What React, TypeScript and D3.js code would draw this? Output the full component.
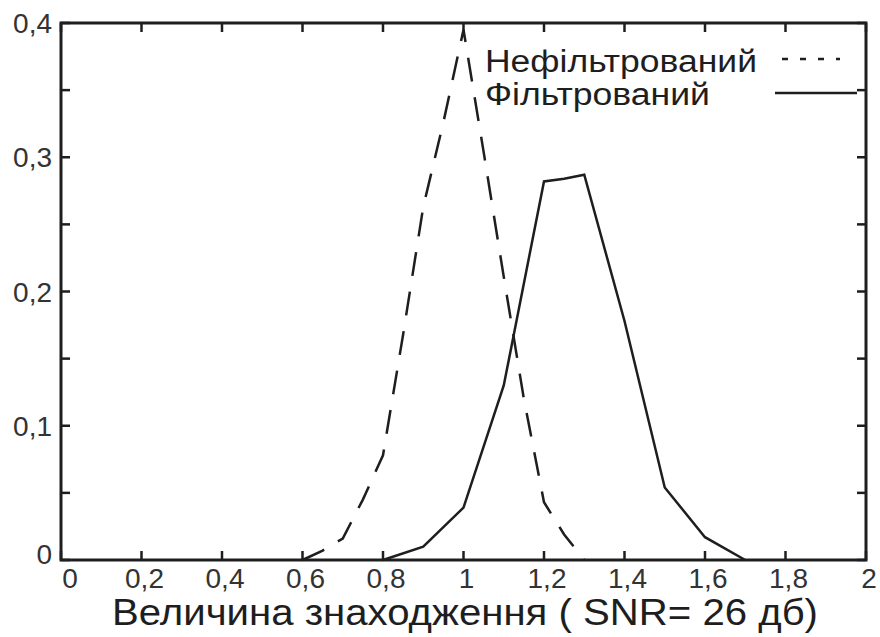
import { useEffect, useRef } from 'react';
import * as d3 from 'd3';

// Нефільтрований (dashed)
const unfilteredX = [0.6, 0.65, 0.7, 0.75, 0.8, 0.85, 0.9, 0.95, 1.0, 1.05, 1.1, 1.15, 1.2, 1.25, 1.3];
const unfilteredY = [0, 0.007, 0.016, 0.045, 0.078, 0.168, 0.263, 0.326, 0.395, 0.304, 0.211, 0.12, 0.043, 0.019, 0];

// Фільтрований (solid)
const filteredX = [0.8, 0.9, 1.0, 1.1, 1.2, 1.25, 1.3, 1.4, 1.5, 1.6, 1.7];
const filteredY = [0, 0.01, 0.039, 0.13, 0.282, 0.284, 0.287, 0.178, 0.054, 0.017, 0];

const xTicks = [0, 0.2, 0.4, 0.6, 0.8, 1, 1.2, 1.4, 1.6, 1.8, 2];
const xTickLabels = ['0', '0,2', '0,4', '0,6', '0,8', '1', '1,2', '1,4', '1,6', '1,8', '2'];
const yTicks = [0, 0.05, 0.1, 0.15, 0.2, 0.25, 0.3, 0.35, 0.4];
const yLabelTicks = [0, 0.1, 0.2, 0.3, 0.4];
const yTickLabels = ['0', '0,1', '0,2', '0,3', '0,4'];

const legendNames = ['Нефільтрований', 'Фільтрований'];
const xTitle = 'Величина знаходження ( SNR= 26 дб)';

export default function App() {
  const svgRef = useRef<SVGSVGElement>(null);

  useEffect(() => {
    document.body.style.margin = '0';
    if (!svgRef.current) return;

    const width = 880;
    const height = 637;
    const left = 61, right = 866, top = 23, bottom = 560;
    const ink = '#1e1e1e';
    const font = "'Liberation Sans', Arial, sans-serif";

    d3.select(svgRef.current).selectAll('*').remove();
    const svg = d3.select(svgRef.current)
      .attr('width', width)
      .attr('height', height)
      .attr('viewBox', `0 0 ${width} ${height}`);

    svg.append('rect').attr('width', width).attr('height', height).style('fill', '#fff');

    const x = d3.scaleLinear().domain([0, 2]).range([left, right]);
    const y = d3.scaleLinear().domain([0, 0.4]).range([bottom, top]);

    // ticks (inside, all four sides)
    const tickLen = 9;
    const ticks = svg.append('g').style('stroke', ink).style('stroke-width', 2.5);
    xTicks.forEach(t => {
      ticks.append('line').attr('x1', x(t)).attr('x2', x(t)).attr('y1', bottom).attr('y2', bottom - tickLen);
      ticks.append('line').attr('x1', x(t)).attr('x2', x(t)).attr('y1', top).attr('y2', top + tickLen);
    });
    yTicks.forEach(t => {
      ticks.append('line').attr('x1', left).attr('x2', left + tickLen).attr('y1', y(t)).attr('y2', y(t));
      ticks.append('line').attr('x1', right).attr('x2', right - tickLen).attr('y1', y(t)).attr('y2', y(t));
    });

    // frame
    svg.append('rect')
      .attr('x', left).attr('y', top)
      .attr('width', right - left).attr('height', bottom - top)
      .style('fill', 'none').style('stroke', ink).style('stroke-width', 3);

    // tick labels
    svg.append('g').selectAll('text')
      .data(xTicks)
      .enter()
      .append('text')
      .attr('x', (d, i) => x(d) + (i === 0 ? 9 : 3))
      .attr('y', 588)
      .attr('text-anchor', 'middle')
      .style('font-family', font)
      .style('font-size', '28px')
      .style('fill', '#333')
      .text((_, i) => xTickLabels[i]);

    svg.append('g').selectAll('text')
      .data(yLabelTicks)
      .enter()
      .append('text')
      .attr('x', 52)
      .attr('y', d => y(d) + (d === 0 ? 4 : 10))
      .attr('text-anchor', 'end')
      .style('font-family', font)
      .style('font-size', '28px')
      .style('fill', '#333')
      .text((_, i) => yTickLabels[i]);

    // curves
    const line = d3.line<[number, number]>()
      .x(d => x(d[0]))
      .y(d => y(d[1]));

    const unfiltered = unfilteredX.map((v, i) => [v, unfilteredY[i]] as [number, number]);
    const filtered = filteredX.map((v, i) => [v, filteredY[i]] as [number, number]);

    svg.append('path')
      .attr('d', line(unfiltered) as string)
      .style('fill', 'none')
      .style('stroke', ink)
      .style('stroke-width', 2.5)
      .style('stroke-dasharray', '24 16');

    svg.append('path')
      .attr('d', line(filtered) as string)
      .style('fill', 'none')
      .style('stroke', ink)
      .style('stroke-width', 2.5);

    // legend
    const legend = svg.append('g');
    legend.append('text')
      .attr('x', 485).attr('y', 72)
      .attr('textLength', 272).attr('lengthAdjust', 'spacingAndGlyphs')
      .style('font-family', font).style('font-size', '31px').style('fill', ink)
      .text(legendNames[0]);
    legend.append('text')
      .attr('x', 485).attr('y', 105)
      .attr('textLength', 225).attr('lengthAdjust', 'spacingAndGlyphs')
      .style('font-family', font).style('font-size', '31px').style('fill', ink)
      .text(legendNames[1]);
    legend.append('line')
      .attr('x1', 782).attr('x2', 840).attr('y1', 59).attr('y2', 59)
      .style('stroke', ink).style('stroke-width', 2.5).style('stroke-dasharray', '6 12');
    legend.append('line')
      .attr('x1', 775).attr('x2', 857).attr('y1', 93).attr('y2', 93)
      .style('stroke', ink).style('stroke-width', 2.5);

    // axis title
    svg.append('text')
      .attr('x', 112).attr('y', 625)
      .attr('textLength', 706).attr('lengthAdjust', 'spacingAndGlyphs')
      .style('font-family', font).style('font-size', '37px').style('fill', ink)
      .text(xTitle);
  }, []);

  return (
    <div style={{ width: 880, height: 637, overflow: 'hidden' }}>
      <svg ref={svgRef} style={{ display: 'block' }} />
    </div>
  );
}
